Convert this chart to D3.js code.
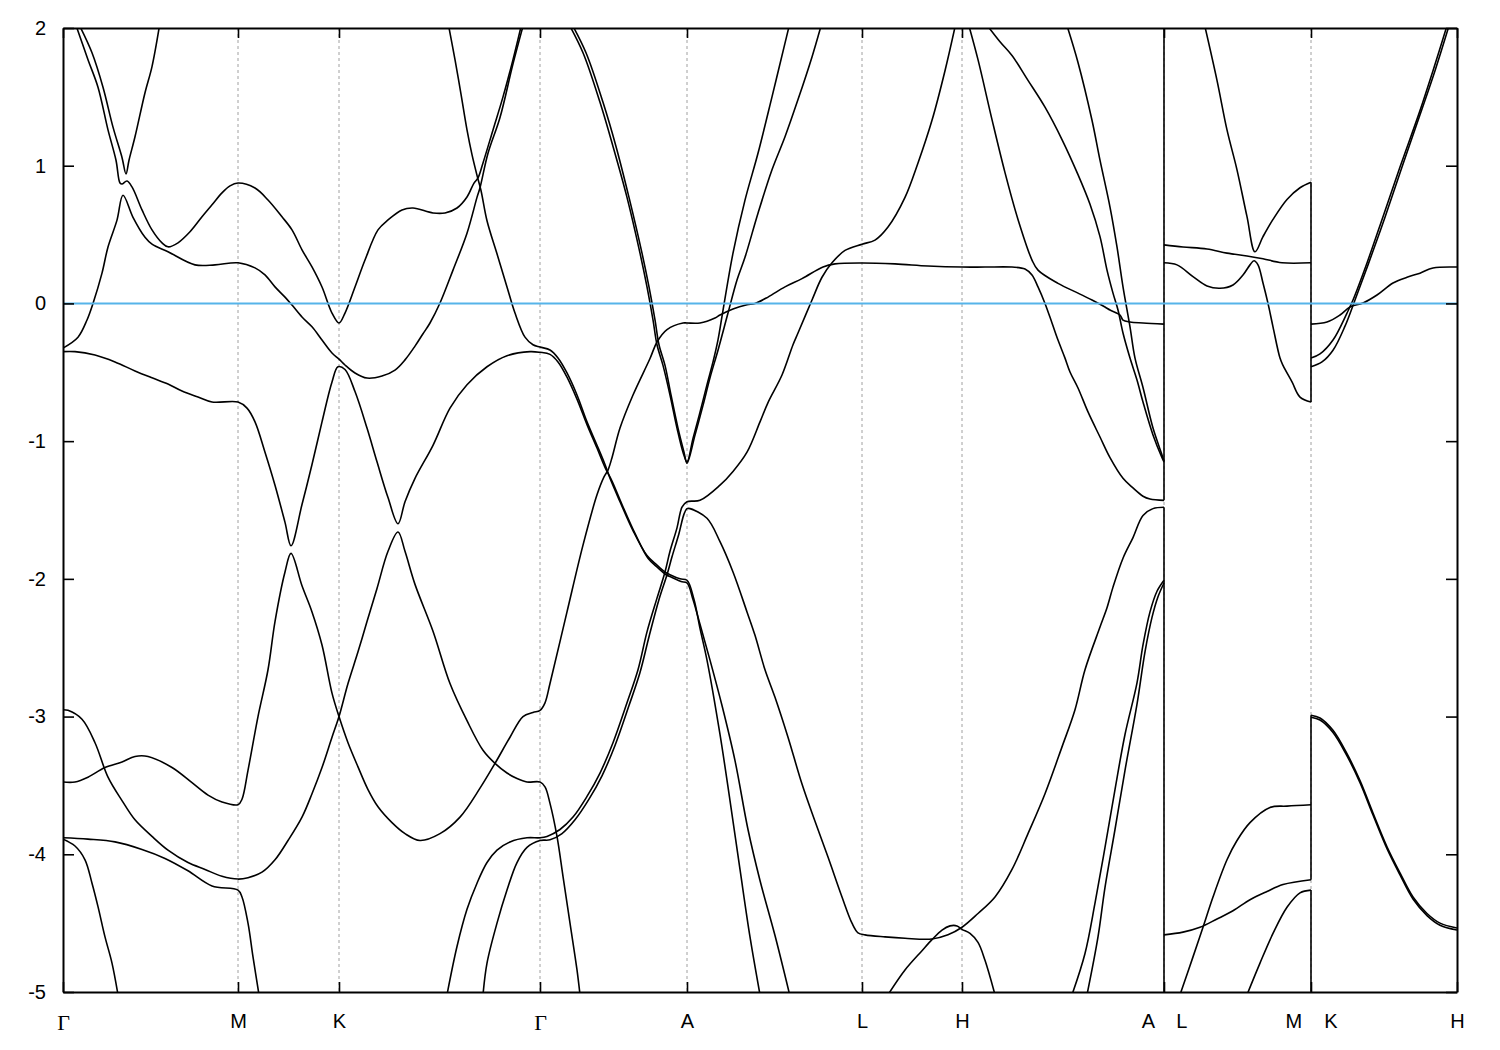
<!DOCTYPE html>
<html><head><meta charset="utf-8">
<script src="https://cdn.jsdelivr.net/npm/d3@7"></script>
<style>body{margin:0;background:#fff} svg{display:block}</style>
</head><body>
<svg id="chart" width="1500" height="1050"></svg>
<script>
// ---- k-path ticks ----
const kTicks  = [0, 1.75, 2.76, 4.77, 6.24, 7.99, 8.99, 11.01, 12.48, 13.94];
const kLabels = ["Γ", "M", "K", "Γ", "A", "L", "H", "A    L", "M    K", "H"];
const energyTicks = [-5, -4, -3, -2, -1, 0, 1, 2];
const fermiLevel = 0;

// ---- bands: [k, E(eV)] ----
const band01 = [[0.12,2.04],[0.25,1.77],[0.35,1.57],[0.45,1.26],[0.53,1.04],[0.57,0.874],[0.59,0.867],[0.64,0.889],[0.69,0.846],[0.79,0.679],[0.89,0.534],[0.99,0.44],[1.05,0.411],[1.15,0.44],[1.27,0.52],[1.39,0.629],[1.49,0.716],[1.59,0.803],[1.67,0.854],[1.75,0.874],[1.92,0.838],[2.05,0.751],[2.19,0.629],[2.29,0.534],[2.39,0.389],[2.49,0.265],[2.59,0.119],[2.69,-0.07],[2.76,-0.142],[2.82,-0.07],[2.92,0.119],[3.02,0.315],[3.15,0.534],[3.25,0.606],[3.39,0.679],[3.50,0.693],[3.70,0.657],[3.82,0.657],[3.94,0.693],[4.04,0.773],[4.11,0.874],[4.15,0.911],[4.20,1.02],[4.30,1.26],[4.40,1.50],[4.50,1.77],[4.59,2.04]];
const band02 = [[0.15,2.04],[0.29,1.82],[0.40,1.57],[0.50,1.28],[0.59,1.06],[0.63,0.94],[0.66,1.04],[0.72,1.21],[0.82,1.53],[0.89,1.72],[0.97,2.04]];
const band03 = [[0,-0.324],[0.15,-0.245],[0.24,-0.12],[0.30,0],[0.39,0.22],[0.45,0.41],[0.54,0.605],[0.60,0.785],[0.70,0.625],[0.82,0.48],[0.89,0.43],[1.05,0.375],[1.32,0.28],[1.52,0.28],[1.75,0.295],[1.92,0.258],[2.02,0.207],[2.12,0.12],[2.22,0.046],[2.29,-0.012],[2.39,-0.099],[2.49,-0.17],[2.59,-0.266],[2.69,-0.36],[2.76,-0.404],[2.82,-0.447],[2.92,-0.505],[3.04,-0.542],[3.19,-0.527],[3.32,-0.484],[3.42,-0.41],[3.52,-0.31],[3.60,-0.22],[3.67,-0.142],[3.77,0.003],[3.90,0.242],[4.04,0.51],[4.14,0.77],[4.17,0.84],[4.25,1.09],[4.37,1.35],[4.50,1.74],[4.61,2.04]];
const band04 = [[3.85,2.04],[3.92,1.77],[3.98,1.52],[4.04,1.26],[4.09,1.08],[4.14,0.93],[4.18,0.82],[4.24,0.60],[4.34,0.36],[4.44,0.12],[4.52,-0.07],[4.62,-0.245],[4.70,-0.30],[4.77,-0.317],[4.87,-0.338],[4.95,-0.396],[5.04,-0.505],[5.14,-0.665],[5.24,-0.86],[5.34,-1.03],[5.42,-1.17],[5.47,-1.27],[5.57,-1.44],[5.70,-1.65],[5.84,-1.83],[5.94,-1.90],[6.02,-1.95],[6.07,-1.97],[6.17,-2.00],[6.24,-2.01],[6.31,-2.15],[6.37,-2.36],[6.44,-2.59],[6.57,-3.13],[6.67,-3.61],[6.77,-4.11],[6.87,-4.60],[6.98,-5.06]];
const band05 = [[0,-0.35],[0.12,-0.35],[0.32,-0.375],[0.52,-0.425],[0.72,-0.49],[0.89,-0.54],[1.05,-0.585],[1.19,-0.636],[1.35,-0.68],[1.49,-0.716],[1.75,-0.716],[1.84,-0.76],[1.92,-0.86],[2.02,-1.08],[2.12,-1.32],[2.22,-1.59],[2.28,-1.76],[2.39,-1.46],[2.49,-1.17],[2.59,-0.86],[2.69,-0.57],[2.75,-0.46],[2.82,-0.48],[2.92,-0.64],[3.04,-0.905],[3.14,-1.15],[3.25,-1.41],[3.35,-1.60],[3.42,-1.44],[3.52,-1.27],[3.70,-1.03],[3.87,-0.76],[4.04,-0.59],[4.24,-0.46],[4.44,-0.38],[4.67,-0.35],[4.77,-0.355],[4.87,-0.37],[4.95,-0.425],[5.04,-0.535],[5.14,-0.695],[5.24,-0.88],[5.34,-1.05],[5.42,-1.19],[5.49,-1.29],[5.59,-1.46],[5.72,-1.67],[5.85,-1.85],[5.95,-1.92],[6.03,-1.97],[6.09,-1.99],[6.18,-2.02],[6.24,-2.03],[6.30,-2.15],[6.37,-2.33],[6.47,-2.59],[6.59,-2.92],[6.72,-3.32],[6.85,-3.82],[6.97,-4.19],[7.12,-4.59],[7.27,-5.03]];
const band06 = [[0,-2.95],[0.05,-2.955],[0.19,-3.02],[0.32,-3.19],[0.45,-3.44],[0.59,-3.61],[0.72,-3.75],[0.89,-3.87],[1.05,-3.97],[1.25,-4.06],[1.42,-4.11],[1.59,-4.16],[1.75,-4.18],[1.85,-4.17],[1.99,-4.13],[2.12,-4.04],[2.25,-3.90],[2.39,-3.73],[2.49,-3.56],[2.59,-3.37],[2.69,-3.15],[2.76,-3.00],[2.85,-2.76],[2.95,-2.53],[3.04,-2.31],[3.14,-2.07],[3.25,-1.80],[3.35,-1.66],[3.42,-1.80],[3.52,-2.04],[3.70,-2.38],[3.87,-2.76],[4.04,-3.03],[4.20,-3.245],[4.32,-3.34],[4.44,-3.41],[4.54,-3.45],[4.64,-3.475],[4.77,-3.475],[4.82,-3.51],[4.87,-3.63],[4.94,-3.87],[5.00,-4.16],[5.07,-4.50],[5.14,-4.84],[5.17,-5.02]];
const band07 = [[0,-3.475],[0.12,-3.475],[0.25,-3.44],[0.42,-3.37],[0.59,-3.33],[0.72,-3.29],[0.85,-3.29],[1.09,-3.37],[1.29,-3.48],[1.45,-3.57],[1.59,-3.62],[1.75,-3.64],[1.79,-3.60],[1.85,-3.39],[1.95,-3.00],[2.05,-2.66],[2.12,-2.31],[2.22,-1.95],[2.28,-1.815],[2.39,-2.05],[2.49,-2.24],[2.59,-2.48],[2.69,-2.83],[2.76,-3.00],[2.85,-3.19],[2.95,-3.365],[3.05,-3.53],[3.15,-3.655],[3.29,-3.77],[3.42,-3.85],[3.57,-3.90],[3.77,-3.85],[3.97,-3.73],[4.17,-3.52],[4.32,-3.34],[4.47,-3.15],[4.60,-3.00],[4.70,-2.97],[4.77,-2.955],[4.82,-2.90],[4.87,-2.76],[5.04,-2.24],[5.20,-1.755],[5.34,-1.39],[5.41,-1.26],[5.45,-1.21],[5.49,-1.12],[5.57,-0.905],[5.70,-0.665],[5.87,-0.40],[5.94,-0.28],[6.04,-0.19],[6.20,-0.142],[6.24,-0.142],[6.37,-0.142],[6.52,-0.106],[6.57,-0.084],[6.70,-0.04],[6.84,-0.01],[6.92,0.0],[7.05,0.046],[7.22,0.12],[7.39,0.18],[7.60,0.265],[7.72,0.287],[7.99,0.294],[8.32,0.287],[8.65,0.272],[8.99,0.264],[9.22,0.264],[9.49,0.264],[9.62,0.25],[9.69,0.206],[9.75,0.12],[9.82,0.0],[9.89,-0.142],[9.95,-0.266],[10.02,-0.397],[10.07,-0.498],[10.15,-0.614],[10.25,-0.788],[10.37,-0.97],[10.47,-1.12],[10.60,-1.27],[10.70,-1.34],[10.80,-1.40],[10.87,-1.42],[11.01,-1.43]];
const band08 = [[3.84,-5.02],[3.94,-4.67],[4.04,-4.40],[4.14,-4.21],[4.24,-4.06],[4.34,-3.97],[4.47,-3.91],[4.64,-3.88],[4.77,-3.88],[4.84,-3.87],[4.97,-3.82],[5.10,-3.73],[5.24,-3.58],[5.37,-3.41],[5.50,-3.19],[5.64,-2.90],[5.75,-2.66],[5.84,-2.385],[5.94,-2.14],[6.02,-1.95],[6.07,-1.80],[6.14,-1.63],[6.19,-1.48],[6.24,-1.44],[6.37,-1.43],[6.57,-1.32],[6.70,-1.22],[6.84,-1.08],[6.97,-0.86],[7.05,-0.72],[7.19,-0.52],[7.30,-0.30],[7.35,-0.215],[7.49,0.025],[7.59,0.19],[7.69,0.295],[7.82,0.385],[7.99,0.43],[8.12,0.46],[8.25,0.555],[8.42,0.77],[8.55,1.02],[8.69,1.33],[8.82,1.69],[8.93,2.04]];
const band09 = [[4.20,-5.02],[4.24,-4.79],[4.34,-4.50],[4.44,-4.26],[4.54,-4.06],[4.64,-3.95],[4.77,-3.90],[4.87,-3.895],[4.99,-3.85],[5.12,-3.75],[5.26,-3.60],[5.39,-3.43],[5.52,-3.21],[5.66,-2.92],[5.77,-2.68],[5.86,-2.42],[5.96,-2.15],[6.04,-1.97],[6.09,-1.84],[6.16,-1.67],[6.21,-1.53],[6.24,-1.49],[6.27,-1.49],[6.44,-1.56],[6.57,-1.73],[6.70,-1.95],[6.84,-2.24],[6.92,-2.41],[7.02,-2.66],[7.12,-2.86],[7.25,-3.15],[7.39,-3.49],[7.52,-3.76],[7.65,-4.02],[7.79,-4.31],[7.89,-4.50],[7.95,-4.57],[8.02,-4.585],[8.22,-4.60],[8.42,-4.61],[8.69,-4.615],[8.85,-4.585],[8.99,-4.53],[9.15,-4.43],[9.32,-4.31],[9.49,-4.11],[9.65,-3.85],[9.82,-3.56],[9.99,-3.22],[10.12,-2.95],[10.22,-2.66],[10.37,-2.35],[10.44,-2.21],[10.50,-2.06],[10.60,-1.85],[10.70,-1.70],[10.80,-1.54],[10.90,-1.49],[11.01,-1.48]];
const band10 = [[8.25,-5.02],[8.42,-4.84],[8.59,-4.70],[8.69,-4.62],[8.79,-4.55],[8.87,-4.52],[8.94,-4.52],[8.99,-4.545],[9.07,-4.575],[9.15,-4.64],[9.22,-4.77],[9.32,-5.02]];
const band11 = [[5.05,2.04],[5.20,1.82],[5.37,1.46],[5.50,1.14],[5.64,0.77],[5.77,0.365],[5.84,0.12],[5.90,-0.12],[5.94,-0.30],[6.00,-0.45],[6.07,-0.665],[6.14,-0.905],[6.20,-1.08],[6.24,-1.15],[6.30,-0.98],[6.37,-0.79],[6.44,-0.59],[6.50,-0.425],[6.55,-0.265],[6.60,-0.05],[6.70,0.365],[6.82,0.75],[6.95,1.09],[7.09,1.50],[7.22,1.89],[7.27,2.04]];
const band12 = [[5.08,2.04],[5.23,1.82],[5.40,1.46],[5.53,1.14],[5.66,0.77],[5.79,0.365],[5.86,0.12],[5.92,-0.12],[5.96,-0.30],[6.02,-0.45],[6.08,-0.665],[6.15,-0.905],[6.21,-1.08],[6.24,-1.16],[6.32,-0.955],[6.40,-0.74],[6.47,-0.54],[6.55,-0.34],[6.65,-0.07],[6.74,0.17],[6.82,0.335],[6.95,0.655],[7.09,0.97],[7.22,1.21],[7.35,1.48],[7.49,1.79],[7.59,2.04]];
const band13 = [[9.05,2.04],[9.15,1.77],[9.29,1.335],[9.42,0.95],[9.55,0.61],[9.69,0.315],[9.75,0.242],[9.95,0.146],[10.15,0.075],[10.29,0.025],[10.42,-0.026],[10.47,-0.048],[10.57,-0.084],[10.60,-0.121],[10.67,-0.135],[10.80,-0.142],[11.01,-0.15]];
const band14 = [[9.22,2.04],[9.37,1.90],[9.49,1.80],[9.65,1.62],[9.82,1.425],[9.99,1.19],[10.15,0.935],[10.27,0.72],[10.37,0.485],[10.44,0.242],[10.50,0.075],[10.55,-0.048],[10.60,-0.215],[10.67,-0.397],[10.74,-0.556],[10.80,-0.716],[10.90,-0.955],[10.99,-1.12],[11.01,-1.15]];
const band15 = [[10.03,2.04],[10.15,1.75],[10.29,1.33],[10.37,1.04],[10.47,0.70],[10.54,0.41],[10.60,0.12],[10.67,-0.17],[10.72,-0.397],[10.80,-0.61],[10.90,-0.905],[10.99,-1.10],[11.01,-1.145]];
const band16 = [[10.09,-5.02],[10.22,-4.72],[10.32,-4.355],[10.42,-3.95],[10.52,-3.53],[10.62,-3.13],[10.74,-2.755],[10.80,-2.48],[10.87,-2.24],[10.94,-2.09],[11.01,-2.01]];
const band17 = [[10.24,-5.02],[10.35,-4.60],[10.42,-4.24],[10.52,-3.82],[10.62,-3.39],[10.74,-2.91],[10.82,-2.53],[10.89,-2.28],[10.95,-2.13],[11.01,-2.03]];
const band18 = [[0,-3.88],[0.25,-3.89],[0.52,-3.91],[0.79,-3.965],[1.02,-4.03],[1.25,-4.12],[1.49,-4.23],[1.75,-4.26],[1.79,-4.31],[1.85,-4.50],[1.90,-4.745],[1.96,-5.02]];
const band19 = [[0,-3.89],[0.12,-3.94],[0.22,-4.04],[0.29,-4.21],[0.35,-4.38],[0.42,-4.60],[0.49,-4.79],[0.55,-5.02]];
const band20 = [[11.01,0.425],[11.20,0.41],[11.44,0.395],[11.64,0.365],[11.84,0.345],[12.00,0.325],[12.19,0.295],[12.48,0.295]];
const band21 = [[11.01,0.295],[11.14,0.28],[11.30,0.195],[11.44,0.127],[11.57,0.11],[11.70,0.134],[11.80,0.206],[11.87,0.28],[11.91,0.31],[11.95,0.28],[12.00,0.148],[12.05,0.0],[12.10,-0.17],[12.17,-0.397],[12.20,-0.45],[12.29,-0.57],[12.37,-0.68],[12.48,-0.716]];
const band22 = [[11.41,2.04],[11.54,1.62],[11.64,1.26],[11.74,0.97],[11.84,0.63],[11.92,0.375],[12.00,0.485],[12.10,0.61],[12.24,0.755],[12.37,0.84],[12.48,0.88]];
const band23 = [[11.01,-4.585],[11.20,-4.565],[11.37,-4.53],[11.54,-4.47],[11.70,-4.41],[11.87,-4.33],[12.04,-4.27],[12.20,-4.22],[12.48,-4.185]];
const band24 = [[11.17,-5.02],[11.30,-4.745],[11.40,-4.53],[11.50,-4.31],[11.64,-4.04],[11.74,-3.90],[11.87,-3.77],[12.07,-3.66],[12.24,-3.65],[12.48,-3.64]];
const band25 = [[11.84,-5.02],[11.97,-4.79],[12.10,-4.575],[12.24,-4.385],[12.37,-4.28],[12.48,-4.26]];
const band26 = [[12.48,-0.15],[12.64,-0.135],[12.77,-0.084],[12.87,-0.026],[13.00,0.003],[13.14,0.061],[13.30,0.148],[13.44,0.19],[13.57,0.22],[13.70,0.257],[13.94,0.264]];
const band27 = [[12.48,-0.397],[12.57,-0.367],[12.70,-0.266],[12.84,-0.07],[12.90,0.025],[13.04,0.294],[13.20,0.63],[13.37,0.99],[13.57,1.40],[13.70,1.69],[13.85,2.04]];
const band28 = [[12.48,-0.46],[12.59,-0.425],[12.70,-0.34],[12.82,-0.165],[12.92,0.025],[13.05,0.28],[13.22,0.625],[13.39,0.99],[13.57,1.37],[13.72,1.69],[13.87,2.04]];
const band29 = [[12.48,-2.99],[12.57,-3.01],[12.70,-3.10],[12.84,-3.27],[12.97,-3.465],[13.10,-3.70],[13.24,-3.945],[13.37,-4.135],[13.50,-4.31],[13.64,-4.43],[13.77,-4.50],[13.94,-4.535]];
const band30 = [[12.48,-3.005],[12.57,-3.025],[12.70,-3.115],[12.84,-3.285],[12.97,-3.48],[13.10,-3.715],[13.24,-3.96],[13.37,-4.15],[13.50,-4.325],[13.64,-4.445],[13.77,-4.515],[13.94,-4.55]];

// discontinuities of the path (A|L and M|K): [k, E from, E to]
const jumps = [[11.01, 2.1, -1.43], [11.01, -1.48, -5.1], [12.48, 0.88, -0.716], [12.48, -2.99, -4.185], [12.48, -4.26, -5.1]];

const bands = [band01,band02,band03,band04,band05,band06,band07,band08,band09,band10,
  band11,band12,band13,band14,band15,band16,band17,band18,band19,band20,
  band21,band22,band23,band24,band25,band26,band27,band28,band29,band30];

// ---- drawing ----
const svg = d3.select("#chart");
const L = 63, R = 1457, T = 28, B = 992;
const x = d3.scaleLinear().domain([0, 13.94]).range([L, R]);
const y = d3.scaleLinear().domain([-5, 2]).range([B, T]);

svg.append("defs").append("clipPath").attr("id", "clip")
  .append("rect").attr("x", L).attr("y", T).attr("width", R - L).attr("height", B - T);

// dashed separators at interior k points
svg.append("g").selectAll("line").data(kTicks.slice(1, -1)).join("line")
  .attr("x1", d => x(d)).attr("x2", d => x(d)).attr("y1", T).attr("y2", B)
  .attr("stroke", "#a0a0a0").attr("stroke-width", 1).attr("stroke-dasharray", "3,3");

const plot = svg.append("g").attr("clip-path", "url(#clip)");
const line = d3.line().x(d => x(d[0])).y(d => y(d[1])).curve(d3.curveCatmullRom.alpha(0.5));
plot.selectAll("path.band").data(bands).join("path").attr("class", "band")
  .attr("d", line).attr("fill", "none").attr("stroke", "#000").attr("stroke-width", 1.6)
  .attr("stroke-linejoin", "round");
plot.selectAll("line.jump").data(jumps).join("line").attr("class", "jump")
  .attr("x1", d => x(d[0])).attr("x2", d => x(d[0])).attr("y1", d => y(d[1])).attr("y2", d => y(d[2]))
  .attr("stroke", "#000").attr("stroke-width", 1.6);

// Fermi level
plot.append("line").attr("x1", L).attr("x2", R).attr("y1", y(fermiLevel)).attr("y2", y(fermiLevel))
  .attr("stroke", "#56b4e9").attr("stroke-width", 2);

// axes
const fontSans = "'Liberation Sans', Arial, sans-serif";
const gB = svg.append("g").attr("transform", `translate(0,${B})`)
  .call(d3.axisBottom(x).tickValues(kTicks).tickFormat((d, i) => kLabels[i]).tickSizeInner(-10).tickSizeOuter(0).tickPadding(22));
const gT = svg.append("g").attr("transform", `translate(0,${T})`)
  .call(d3.axisTop(x).tickValues(kTicks).tickFormat("").tickSizeInner(-10).tickSizeOuter(0));
const gL = svg.append("g").attr("transform", `translate(${L},0)`)
  .call(d3.axisLeft(y).tickValues(energyTicks).tickFormat(d => String(d)).tickSizeInner(-11).tickSizeOuter(0).tickPadding(17));
const gR = svg.append("g").attr("transform", `translate(${R},0)`)
  .call(d3.axisRight(y).tickValues(energyTicks).tickFormat("").tickSizeInner(-11).tickSizeOuter(0));
[gB, gT, gL, gR].forEach(g => {
  g.selectAll("path.domain").attr("stroke", "#000").attr("stroke-width", 2);
  g.selectAll(".tick line").attr("stroke", "#000").attr("stroke-width", 1.6);
  g.selectAll("text").attr("fill", "#000").style("font-family", fontSans).style("font-size", "20px");
});
gB.selectAll(".tick text").style("white-space", "pre")
  .style("font-family", (d, i) => kLabels[i] === "Γ" ? "'Liberation Serif', 'DejaVu Serif', serif" : fontSans)
  .style("font-size", (d, i) => kLabels[i] === "Γ" ? "22px" : "20px");
</script>
</body></html>
